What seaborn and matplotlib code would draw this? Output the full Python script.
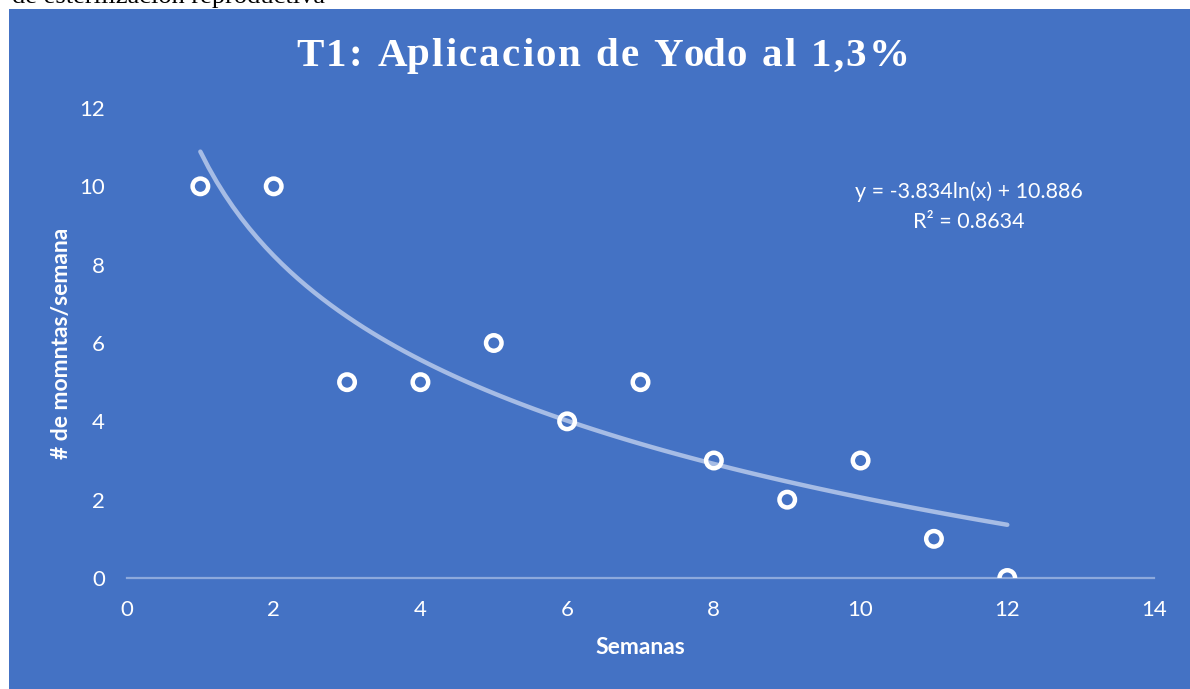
import matplotlib
matplotlib.use("Agg")
import matplotlib.pyplot as plt
import seaborn as sns
import pandas as pd
import numpy as np
from matplotlib.patches import Rectangle

semanas = [1, 2, 3, 4, 5, 6, 7, 8, 9, 10, 11, 12]
momntas = [10, 10, 5, 5, 6, 4, 5, 3, 2, 3, 1, 0]
x_ticks = [0, 2, 4, 6, 8, 10, 12, 14]
y_ticks = [0, 2, 4, 6, 8, 10, 12]
title = "T1: Aplicacion de Yodo al 1,3%"
equation = "y = -3.834ln(x) + 10.886"
r2_text = "R² = 0.8634"
top_text = "de esterilización reproductiva"

df = pd.DataFrame({"Semanas": semanas, "Momntas": momntas})

BLUE = "#4472C4"
sns.set_theme(style="white")
plt.rcParams["font.family"] = ["Lato", "DejaVu Sans"]

fig = plt.figure(figsize=(11.9, 6.89), dpi=100)
fig.patch.set_facecolor("white")
fig.patches.append(Rectangle((9 / 1190, 0), 1 - 9 / 1190, 1 - 9 / 689,
                             transform=fig.transFigure, facecolor=BLUE,
                             edgecolor="none", zorder=-10))

ax = fig.add_axes([127 / 1190, 1 - 578 / 689, (1154 - 127) / 1190, (578 - 108) / 689])
ax.set_zorder(2)
ax.set_facecolor("none")

sns.regplot(data=df, x="Semanas", y="Momntas", logx=True, ci=None, scatter=False,
            line_kws=dict(color="#A6BCE5", lw=3.2, solid_capstyle="round"), ax=ax,
            truncate=True)
sns.scatterplot(data=df, x="Semanas", y="Momntas", s=125, marker="o",
                facecolor="none", edgecolor="white", linewidth=3.2, ax=ax, zorder=5)

ax.set_xlim(0, 14)
ax.set_ylim(0, 12)
ax.set_xticks(x_ticks)
ax.set_yticks(y_ticks)
ax.tick_params(axis="both", length=0, labelsize=16, colors="white")
ax.tick_params(axis="x", pad=16)
ax.tick_params(axis="y", pad=16)
for s in ["top", "right", "left"]:
    ax.spines[s].set_visible(False)
ax.spines["bottom"].set_color("#8DA9DC")
ax.spines["bottom"].set_linewidth(1.6)

ax.set_xlabel("Semanas", fontsize=16.5, fontweight="bold", color="white", labelpad=12)
ax.set_ylabel("# de momntas/semana", fontsize=16.5, fontweight="bold", color="white", labelpad=5)

# Title with extra letter spacing
renderer = fig.canvas.get_renderer()
tprops = dict(color="white", fontsize=29.5, fontweight="bold", family="Liberation Serif",
              va="center", ha="left")
def text_w(s):
    t = fig.text(0, 0, s + "|", **tprops)
    w = t.get_window_extent(renderer).width
    t.remove()
    t2 = fig.text(0, 0, "|", **tprops)
    w2 = t2.get_window_extent(renderer).width
    t2.remove()
    return w - w2
spacing = 2.2
total = text_w(title) + spacing * (len(title) - 1)
x0 = 603 - total / 2
for i, ch in enumerate(title):
    if ch == " ":
        continue
    xp = x0 + text_w(title[:i]) + spacing * i
    fig.text(xp / 1190, 1 - 56 / 689, ch, **tprops)

fig.text(969 / 1190, 1 - 192 / 689, equation, ha="center", va="center",
         color="white", fontsize=15.5)
fig.text(969 / 1190, 1 - 222 / 689, r2_text, ha="center", va="center",
         color="white", fontsize=15.5)
fig.text(12 / 1190, 1 - 3.5 / 689, top_text, ha="left", va="baseline",
         color="black", fontsize=19, family="Liberation Serif", zorder=-20)

fig.savefig("out.png", dpi=100, facecolor=fig.get_facecolor())
